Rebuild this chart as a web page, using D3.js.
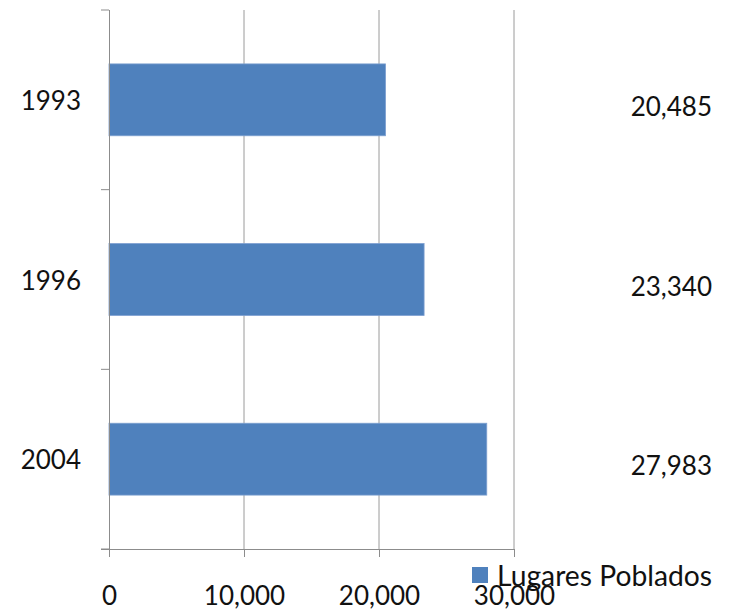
<!DOCTYPE html>
<html>
<head>
<meta charset="utf-8">
<script src="https://cdn.jsdelivr.net/npm/d3@7"></script>
<style>
  html, body { margin: 0; padding: 0; background: #fff; }
  svg { display: block; }
  text { font-family: Lato, "Open Sans", sans-serif; fill: #111; }
</style>
</head>
<body>
<svg id="chart" width="733" height="613"></svg>
<script>
// Number of populated places per census year
const years = ["1993", "1996", "2004"];
const lugaresPoblados = [20485, 23340, 27983];
const xTicks = [0, 10000, 20000, 30000];
const seriesName = "Lugares Poblados";

const svg = d3.select("#chart");
const margin = { top: 10, left: 109, right: 219, bottom: 64 };
const W = 733, H = 613;
const plotW = W - margin.left - margin.right;
const plotH = H - margin.top - margin.bottom;

const x = d3.scaleLinear().domain([0, 30000]).range([0, plotW]);
const y = d3.scaleBand().domain(years).range([0, plotH]).paddingInner(0.6).paddingOuter(0.3);

const g = svg.append("g").attr("transform", `translate(${margin.left},${margin.top})`);
const fmt = d3.format(",");

// vertical gridlines
g.selectAll("line.grid")
  .data(xTicks.slice(1))
  .join("line")
  .attr("class", "grid")
  .attr("x1", d => x(d)).attr("x2", d => x(d))
  .attr("y1", 0).attr("y2", plotH)
  .attr("stroke", "#9a9a9a").attr("stroke-width", 1);

// bars
g.selectAll("rect.bar")
  .data(years.map((yr, i) => ({ yr, v: lugaresPoblados[i] })))
  .join("rect")
  .attr("class", "bar")
  .attr("x", 0)
  .attr("y", d => y(d.yr))
  .attr("width", d => x(d.v))
  .attr("height", y.bandwidth())
  .attr("fill", "#4f81bd")
  .attr("stroke", "#7d9fd0").attr("stroke-width", 0.8);

// bottom axis
const xAxis = g.append("g")
  .attr("transform", `translate(0,${plotH})`)
  .call(d3.axisBottom(x).tickValues(xTicks).tickFormat(fmt).tickSizeInner(8).tickSizeOuter(0).tickPadding(30));
xAxis.select(".domain").attr("stroke", "#8c8c8c").attr("d", `M-8,0.5H${plotW}`);
xAxis.selectAll(".tick line").attr("stroke", "#8c8c8c");
xAxis.selectAll(".tick text").attr("font-size", 26).attr("fill", "#111");

// left axis: category boundaries marked by ticks
const yAxisG = g.append("g");
yAxisG.append("line")
  .attr("x1", 0.5).attr("x2", 0.5).attr("y1", 0).attr("y2", plotH)
  .attr("stroke", "#8c8c8c");
const step = y.step();
const firstEdge = y(years[0]) - y.paddingOuter() * step;
const edges = d3.range(years.length + 1).map(i => firstEdge + i * (plotH - 2 * firstEdge) / years.length);
yAxisG.selectAll("line.ytick")
  .data(edges)
  .join("line")
  .attr("class", "ytick")
  .attr("x1", -8).attr("x2", 0)
  .attr("y1", d => d).attr("y2", d => d)
  .attr("stroke", "#8c8c8c");

// category labels
g.selectAll("text.cat")
  .data(years)
  .join("text")
  .attr("class", "cat")
  .attr("x", -28)
  .attr("y", d => y(d) + y.bandwidth() / 2)
  .attr("text-anchor", "end")
  .attr("dominant-baseline", "central")
  .attr("font-size", 26)
  .text(d => d);

// value labels at the right
svg.selectAll("text.val")
  .data(years.map((yr, i) => ({ yr, v: lugaresPoblados[i] })))
  .join("text")
  .attr("class", "val")
  .attr("x", 712)
  .attr("y", d => margin.top + y(d.yr) + y.bandwidth() / 2 + 6)
  .attr("text-anchor", "end")
  .attr("dominant-baseline", "central")
  .attr("font-size", 26)
  .text(d => fmt(d.v));

// legend
const lg = svg.append("g").attr("transform", "translate(472,567)");
lg.append("rect").attr("width", 16).attr("height", 16).attr("fill", "#4f81bd");
lg.append("text").attr("x", 25).attr("y", 19)
  .attr("font-size", 29)
  .attr("textLength", 215).attr("lengthAdjust", "spacingAndGlyphs")
  .text(seriesName);
</script>
</body>
</html>
